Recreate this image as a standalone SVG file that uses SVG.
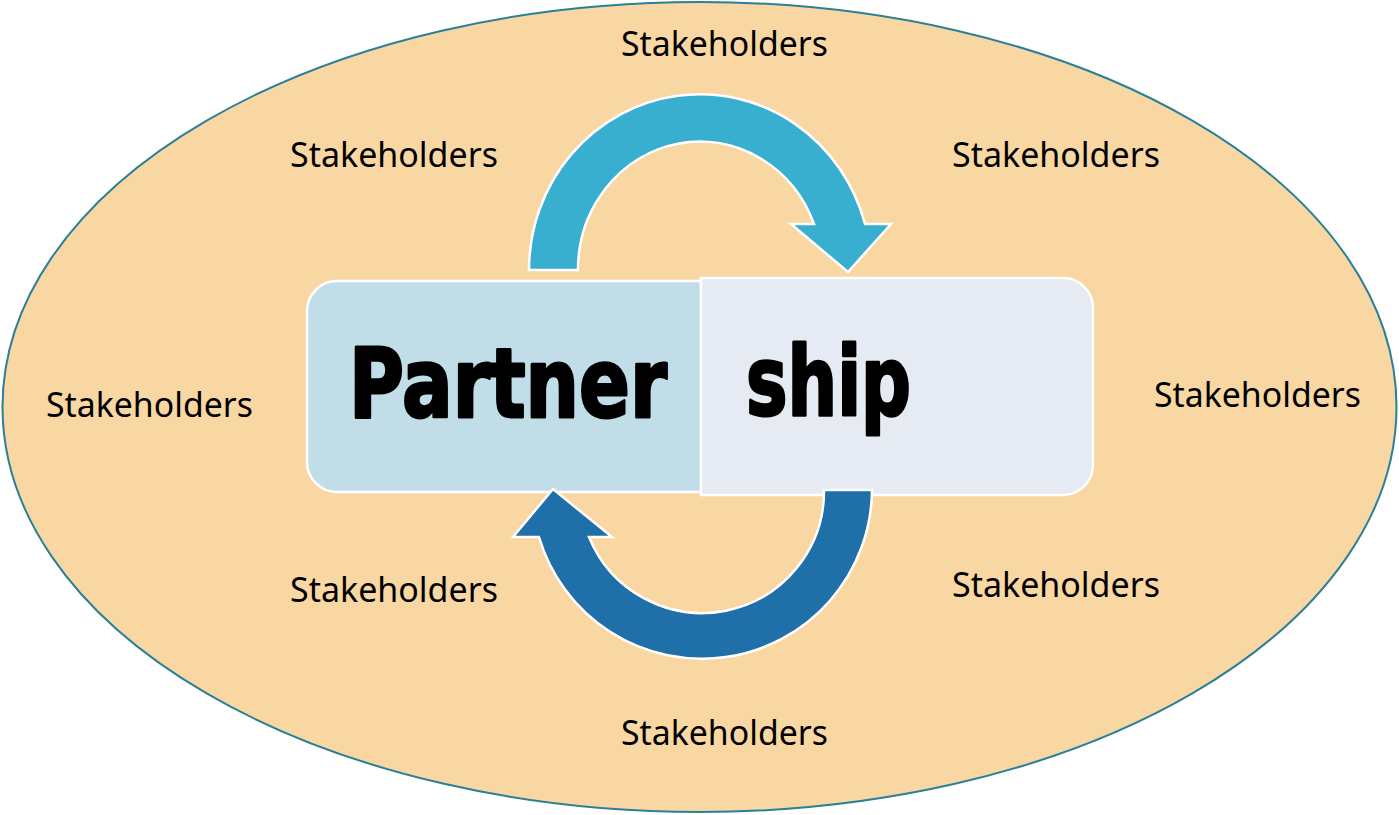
<svg xmlns="http://www.w3.org/2000/svg" width="1399" height="815" viewBox="0 0 1399 815">
  <style>
    .label { font-family: "Noto Sans", "Open Sans", sans-serif; font-size: 34px; fill: #000; }
    .big { font-family: "DejaVu Sans", "Liberation Sans", sans-serif; font-weight: bold; font-size: 80px; fill: #000; stroke: #000; stroke-width: 2.5; stroke-linejoin: round; }
    .box { stroke: #ffffff; stroke-width: 2.5; }
    .arrow { stroke: #ffffff; stroke-width: 2.5; stroke-linejoin: miter; }
  </style>

  <!-- outer stakeholder field -->
  <g id="field">
    <ellipse cx="699.5" cy="407" rx="697" ry="405" fill="#f8d7a3" stroke="#2b7f98" stroke-width="2"/>
  </g>

  <!-- central split block -->
  <g id="partner">
    <path class="box" fill="#c0dde8" d="M701,281 L337,281 A30,30 0 0 0 307,311 L307,462 A30,30 0 0 0 337,492 L701,492 Z"/>
    <text class="big" transform="translate(349,417) scale(1,1.2)" x="0" y="0" textLength="318" lengthAdjust="spacingAndGlyphs">Partner</text>
  </g>
  <g id="ship">
    <path class="box" fill="#e6eaf2" d="M701,278 L1063,278 A30,30 0 0 1 1093,308 L1093,465 A30,30 0 0 1 1063,495 L701,495 Z"/>
    <text class="big" transform="translate(746,415) scale(1,1.2)" x="0" y="0" textLength="165" lengthAdjust="spacingAndGlyphs">ship</text>
  </g>

  <!-- circular flow arrows -->
  <g id="connectors">
    <path class="arrow" fill="#38afcf" d="M529,270 A171,176 0 0 1 865,224 L891,224 L848,272 L791,224 L814,224 A122,128 0 0 0 578,270 Z"/>
    <path class="arrow" fill="#1f6fa8" d="M872,490 A170,170 0 0 1 539,537 L513,537 L553,489 L612,537 L589,537 A122,122 0 0 0 824,490 Z"/>
  </g>

  <!-- stakeholder labels -->
  <g id="stakeholders">
    <text class="label" x="621" y="56" textLength="207" lengthAdjust="spacingAndGlyphs">Stakeholders</text>
    <text class="label" x="290" y="167" textLength="208" lengthAdjust="spacingAndGlyphs">Stakeholders</text>
    <text class="label" x="952" y="167" textLength="208" lengthAdjust="spacingAndGlyphs">Stakeholders</text>
    <text class="label" x="46" y="417" textLength="207" lengthAdjust="spacingAndGlyphs">Stakeholders</text>
    <text class="label" x="1154" y="407" textLength="207" lengthAdjust="spacingAndGlyphs">Stakeholders</text>
    <text class="label" x="290" y="602" textLength="208" lengthAdjust="spacingAndGlyphs">Stakeholders</text>
    <text class="label" x="952" y="597" textLength="208" lengthAdjust="spacingAndGlyphs">Stakeholders</text>
    <text class="label" x="621" y="745" textLength="207" lengthAdjust="spacingAndGlyphs">Stakeholders</text>
  </g>
</svg>
